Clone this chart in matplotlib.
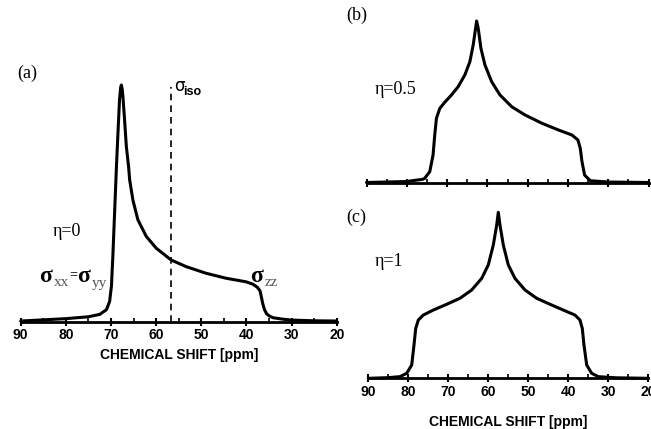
import numpy as np
import matplotlib
matplotlib.use("Agg")
import matplotlib.pyplot as plt
from matplotlib.ticker import MultipleLocator

# Powder line shapes (ppm, normalised intensity) for three asymmetry values
ppm_eta0 = [90.0, 80.0, 75.0, 72.5, 71.0, 70.3, 69.9, 69.6, 69.2, 68.8,
            68.4, 68.1, 67.85, 67.7, 67.5, 67.35, 66.98, 66.6, 66.1, 65.87,
            65.14, 64.04, 62.19, 59.98, 56.67, 53.36, 48.94, 44.53, 40.11,
            38.6, 37.6, 37.0, 36.7, 36.4, 36.0, 35.5, 34.8, 34.1, 32.0,
            30.0, 25.0, 20.0]
int_eta0 = [0.002, 0.012, 0.02, 0.03, 0.05, 0.085, 0.15, 0.27, 0.46, 0.65,
            0.82, 0.94, 0.99, 1.0, 0.98, 0.95, 0.85, 0.74, 0.655, 0.60,
            0.513, 0.43, 0.36, 0.31, 0.26, 0.232, 0.204, 0.183, 0.168,
            0.158, 0.145, 0.13, 0.105, 0.077, 0.05, 0.032, 0.022, 0.016, 0.01,
            0.006, 0.003, 0.002]

ppm_eta05 = [90.0, 80.1, 76.0, 75.55, 74.3, 73.48, 73.06, 72.64, 71.8, 70.57,
             68.9, 67.25, 65.59, 64.34, 63.52, 62.92, 62.67, 62.27, 61.6,
             60.6, 58.93, 56.87, 53.95, 50.64, 46.48, 42.34, 39.0, 37.51,
             36.94, 36.51, 35.86, 34.44, 30.0, 20.0]
int_eta05 = [0.0, 0.006, 0.02, 0.026, 0.067, 0.17, 0.294, 0.398, 0.459, 0.497,
             0.542, 0.593, 0.666, 0.748, 0.851, 0.955, 1.0, 0.955, 0.831,
             0.728, 0.624, 0.542, 0.469, 0.418, 0.367, 0.325, 0.294, 0.263,
             0.212, 0.129, 0.046, 0.011, 0.003, 0.0]

ppm_eta1 = [90.0, 85.0, 82.08, 80.4, 79.15, 78.58, 78.15, 77.5, 76.25, 73.75,
            70.4, 67.08, 64.15, 61.65, 60.0, 58.75, 57.9, 57.5, 57.08, 56.25,
            55.0, 53.33, 50.83, 47.9, 44.58, 41.25, 38.33, 37.08, 36.5, 36.08,
            35.4, 34.15, 32.5, 28.0, 20.0]
int_eta1 = [0.0, 0.004, 0.01, 0.03, 0.08, 0.2, 0.30, 0.351, 0.381, 0.411,
            0.446, 0.482, 0.532, 0.602, 0.683, 0.803, 0.923, 1.0, 0.923, 0.803,
            0.683, 0.602, 0.532, 0.482, 0.446, 0.411, 0.381, 0.351, 0.30, 0.2,
            0.08, 0.03, 0.01, 0.003, 0.0]

sigma_iso = 56.7
x_ticks = [90, 80, 70, 60, 50, 40, 30, 20]

W, H = 651, 429
fig = plt.figure(figsize=(W / 100, H / 100), dpi=100)


def px_axes(x0, x1, y_base, unit_px, top=1.15):
    # axes placed in pixel units; y_base is the baseline row
    y_top = y_base - unit_px * top
    ax = fig.add_axes([x0 / W, 1 - y_base / H, (x1 - x0) / W,
                       (y_base - y_top) / H])
    ax.set_xlim(90, 20)
    ax.set_ylim(0, top)
    for s in ("top", "right", "left"):
        ax.spines[s].set_visible(False)
    ax.spines["bottom"].set_linewidth(2.0)
    ax.set_yticks([])
    ax.xaxis.set_major_locator(MultipleLocator(10))
    ax.xaxis.set_minor_locator(MultipleLocator(5))
    ax.tick_params(axis="x", which="major", direction="inout", length=6,
                   width=1.5, pad=2)
    ax.tick_params(axis="x", which="minor", direction="in", length=3,
                   width=1.2)
    ax.patch.set_visible(False)
    return ax


def label_axis(ax, pad):
    ax.set_xticks(x_ticks)
    ax.set_xticklabels([str(t) for t in x_ticks], fontsize=10,
                       fontweight="bold", family="Liberation Sans")
    ax.set_xlabel("CHEMICAL SHIFT [ppm]", fontsize=10, fontweight="bold",
                  family="Liberation Sans", labelpad=pad)


def ftext(x, y, s, **kw):
    kw.setdefault("family", "Liberation Serif")
    kw.setdefault("va", "center")
    fig.text(x / W, 1 - y / H, s, **kw)


def spectrum(ax, ppm, inten):
    ax.plot(ppm, inten, color="black", lw=2.2, clip_on=False,
            solid_joinstyle="round", solid_capstyle="round")


# (a) axially symmetric tensor
ax1 = px_axes(20.7, 336.7, 321.5, 236.5)
spectrum(ax1, ppm_eta0, int_eta0)
ax1.plot([sigma_iso, sigma_iso], [0, 0.99], color="black", lw=1.2,
         ls=(0, (4, 3)))
label_axis(ax1, 4)

# (b) eta = 0.5
ax2 = px_axes(366.5, 648.5, 182.5, 161.5)
spectrum(ax2, ppm_eta05, int_eta05)
ax2.set_xticklabels([])

# (c) eta = 1
ax3 = px_axes(368.3, 648.3, 378.3, 166.0)
spectrum(ax3, ppm_eta1, int_eta1)
label_axis(ax3, 11)

# panel letters and annotations
ftext(17, 73, "(a)", fontsize=13)
ftext(53, 232, "η=0", fontsize=13)
ftext(39, 277, "σ", fontsize=17, fontweight="bold")
ftext(54, 282, "xx", fontsize=11, color="#555555")
ftext(69, 275, "=", fontsize=10, fontweight="bold")
ftext(77, 277, "σ", fontsize=17, fontweight="bold")
ftext(92, 284, "yy", fontsize=11, color="#555555")
ftext(250, 277, "σ", fontsize=17, fontweight="bold")
ftext(265, 282, "zz", fontsize=11, color="#555555")
ftext(174, 86, "σ", fontsize=12, family="DejaVu Sans")
ftext(183, 92, "iso", fontsize=9, fontweight="bold", family="Liberation Sans")

ftext(346, 15, "(b)", fontsize=13)
ftext(375, 90, "η=0.5", fontsize=13)
ftext(346, 217, "(c)", fontsize=13)
ftext(375, 262, "η=1", fontsize=13)

fig.savefig("out.png", dpi=100)
